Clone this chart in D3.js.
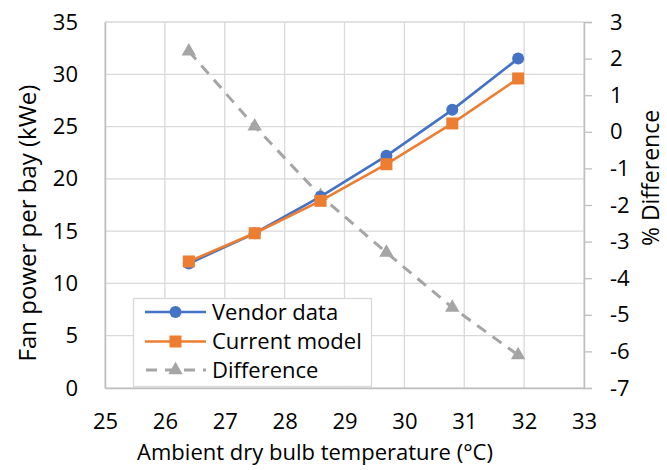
<!DOCTYPE html>
<html><head><meta charset="utf-8">
<script src="https://cdn.jsdelivr.net/npm/d3@7"></script>
<style>body{margin:0;background:#fff;} text{font-family:"Open Sans",sans-serif;fill:#000;}</style>
</head><body><svg id="c" width="667" height="470"></svg>
<script>
const temps = [26.4, 27.5, 28.6, 29.7, 30.8, 31.9];
const vendor = [11.9, 14.8, 18.3, 22.2, 26.6, 31.5];
const model = [12.1, 14.8, 17.9, 21.4, 25.3, 29.6];
const diff = [2.2, 0.15, -1.75, -3.3, -4.8, -6.1];
const xTicks = [25, 26, 27, 28, 29, 30, 31, 32, 33];
const yTicks = [0, 5, 10, 15, 20, 25, 30, 35];
const y2Ticks = [-7, -6, -5, -4, -3, -2, -1, 0, 1, 2, 3];
const seriesNames = ["Vendor data", "Current model", "Difference"];

const svg = d3.select("#c");
const L = 105, R = 584, T = 22, B = 388;
const x = d3.scaleLinear().domain([25, 33]).range([L, R]);
const y = d3.scaleLinear().domain([0, 35]).range([B, T]);
const y2 = d3.scaleLinear().domain([-7, 3]).range([B, T]);
const grid = "#d9d9d9", axisC = "#bfbfbf";
const fs = 22;

// gridlines
svg.append("g").selectAll("line").data(xTicks).join("line")
  .attr("x1", d => x(d)).attr("x2", d => x(d)).attr("y1", T).attr("y2", B)
  .attr("stroke", grid).attr("stroke-width", 1.3);
svg.append("g").selectAll("line").data(yTicks).join("line")
  .attr("x1", L).attr("x2", R).attr("y1", d => y(d)).attr("y2", d => y(d))
  .attr("stroke", grid).attr("stroke-width", 1.3);

// axes
const fmt = d => String(d);
const gl = svg.append("g").attr("transform", `translate(${L},0)`)
  .call(d3.axisLeft(y).tickValues(yTicks).tickFormat(fmt).tickSize(0).tickPadding(27));
const gr = svg.append("g").attr("transform", `translate(${R},0)`)
  .call(d3.axisRight(y2).tickValues(y2Ticks).tickFormat(fmt).tickSize(8).tickPadding(18));
const gb = svg.append("g").attr("transform", `translate(0,${B})`)
  .call(d3.axisBottom(x).tickValues(xTicks).tickFormat(fmt).tickSize(0).tickPadding(25));
[gl, gr, gb].forEach(g => {
  g.select(".domain").attr("stroke", axisC).attr("stroke-width", 1.5);
  g.selectAll(".tick line").attr("stroke", axisC).attr("stroke-width", 1.3);
  g.selectAll("text").style("font-size", fs + "px").attr("fill", "#000").style("font-family", "Open Sans");
});
gb.selectAll(".tick text").attr("dy", "0.71em");

// titles
svg.append("text").attr("x", 315).attr("y", 460).attr("text-anchor", "middle")
  .style("font-size", fs + "px").text("Ambient dry bulb temperature (°C)");
svg.append("text").attr("transform", "translate(36,223) rotate(-90)").attr("text-anchor", "middle")
  .style("font-size", "24px").text("Fan power per bay (kWe)");
svg.append("text").attr("transform", "translate(659,178) rotate(-90)").attr("text-anchor", "middle")
  .style("font-size", "23px").text("% Difference");

const blue = "#4472C4", orange = "#ED7D31", gray = "#A5A5A5";
const line1 = d3.line().x((d, i) => x(temps[i])).y(d => y(d));
const line2 = d3.line().x((d, i) => x(temps[i])).y(d => y2(d));

// Difference series
svg.append("path").datum(diff).attr("d", line2).attr("fill", "none")
  .attr("stroke", gray).attr("stroke-width", 3).attr("stroke-dasharray", "11,8");
const tri = d3.symbol().type(d3.symbolTriangle).size(90);
svg.append("g").selectAll("path").data(diff).join("path")
  .attr("d", tri).attr("transform", (d, i) => `translate(${x(temps[i])},${y2(d)})`).attr("fill", gray);

// Vendor
svg.append("path").datum(vendor).attr("d", line1).attr("fill", "none")
  .attr("stroke", blue).attr("stroke-width", 2.6);
svg.append("g").selectAll("circle").data(vendor).join("circle")
  .attr("cx", (d, i) => x(temps[i])).attr("cy", d => y(d)).attr("r", 6).attr("fill", blue);

// Model
svg.append("path").datum(model).attr("d", line1).attr("fill", "none")
  .attr("stroke", orange).attr("stroke-width", 2.6);
svg.append("g").selectAll("rect").data(model).join("rect")
  .attr("x", (d, i) => x(temps[i]) - 6).attr("y", d => y(d) - 6)
  .attr("width", 12).attr("height", 12).attr("fill", orange);

// legend
const lg = svg.append("g");
lg.append("rect").attr("x", 133.5).attr("y", 298.5).attr("width", 238).attr("height", 88)
  .attr("fill", "#fff").attr("stroke", grid).attr("stroke-width", 1.3);
const rows = [312, 341.5, 370];
const cols = [blue, orange, gray];
seriesNames.forEach((n, i) => {
  const ry = rows[i];
  const ln = lg.append("line").attr("x1", 145).attr("x2", 206).attr("y1", ry).attr("y2", ry)
    .attr("stroke", cols[i]).attr("stroke-width", i === 2 ? 3 : 2.6);
  if (i === 2) ln.attr("stroke-dasharray", "11,8").attr("stroke-dashoffset", -1);
  if (i === 0) lg.append("circle").attr("cx", 175.5).attr("cy", ry).attr("r", 6).attr("fill", blue);
  if (i === 1) lg.append("rect").attr("x", 169.5).attr("y", ry - 6).attr("width", 12).attr("height", 12).attr("fill", orange);
  if (i === 2) lg.append("path").attr("d", tri).attr("transform", `translate(175.5,${ry})`).attr("fill", gray);
  lg.append("text").attr("x", 212).attr("y", ry).attr("dy", "0.35em").style("font-size", fs + "px").text(n);
});
</script></body></html>
